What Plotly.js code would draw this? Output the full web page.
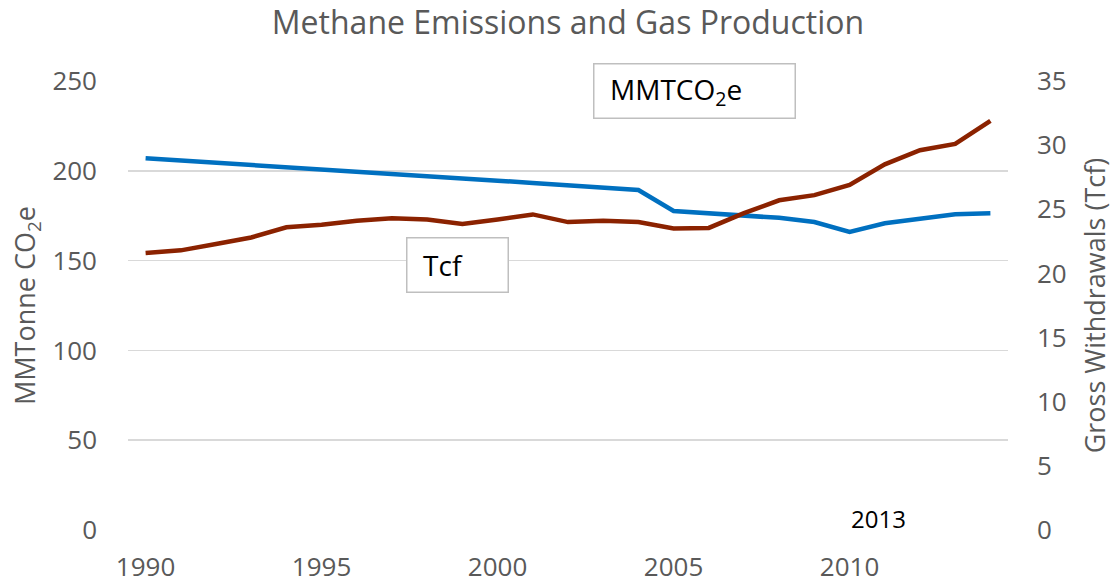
<!DOCTYPE html>
<html>
<head>
<meta charset="utf-8">
<script src="https://cdn.plot.ly/plotly-3.0.1.min.js"></script>
<style>
  html, body { margin: 0; padding: 0; background: #fff; }
  #chart { width: 1115px; height: 587px; }
</style>
</head>
<body>
<div id="chart"></div>
<script>
  // years of the series
  var years = [1990, 1991, 1992, 1993, 1994, 1995, 1996, 1997, 1998, 1999,
               2000, 2001, 2002, 2003, 2004, 2005, 2006, 2007, 2008, 2009,
               2010, 2011, 2012, 2013, 2014];

  // methane emissions, MMT CO2e (left axis)
  var methane = [207, 205.8, 204.5, 203.3, 202, 200.7, 199.5, 198.2, 197, 195.7,
                 194.5, 193.2, 192, 190.7, 189.3, 177.6, 176.5, 175.3, 173.8, 171.5,
                 166, 170.8, 173.6, 175.8, 176.3];

  // gross withdrawals, Tcf (right axis)
  var gas = [21.6, 21.8, 22.3, 22.8, 23.6, 23.8, 24.1, 24.3, 24.2, 23.85,
             24.2, 24.6, 24.0, 24.1, 24.0, 23.5, 23.55, 24.7, 25.7, 26.1,
             26.9, 28.5, 29.6, 30.1, 31.9];

  // tick labels of the year axis
  var yearTicks = [1990, 1995, 2000, 2005, 2010];

  var grey = '#595959';
  var font = 'Open Sans, sans-serif';

  var emissions = {
    x: years,
    y: methane,
    yaxis: 'y',
    mode: 'lines',
    name: 'MMTCO2e',
    line: { color: '#0070C0', width: 4.5 }
  };

  var production = {
    x: years,
    y: gas,
    yaxis: 'y2',
    mode: 'lines',
    name: 'Tcf',
    line: { color: '#8B2200', width: 4.5 }
  };

  var data = [emissions, production];

  var layout = {
    width: 1115,
    height: 587,
    margin: { l: 128, r: 107, t: 81, b: 57 },
    paper_bgcolor: '#fff',
    plot_bgcolor: '#fff',
    showlegend: false,
    font: { family: font, color: grey },
    title: {
      text: 'Methane Emissions and Gas Production',
      font: { size: 32, color: grey, family: font },
      x: 0.5, xref: 'paper',
      y: 0.962, yref: 'container', yanchor: 'middle'
    },
    xaxis: {
      range: [1989.5, 2014.5],
      tickvals: yearTicks,
      ticktext: yearTicks.map(String),
      showgrid: false,
      zeroline: false,
      showline: false,
      ticks: '',
      ticklabelstandoff: 19,
      tickfont: { size: 26, color: grey, family: font },
      automargin: false,
      fixedrange: true
    },
    yaxis: {
      range: [0, 250],
      dtick: 50,
      showgrid: true,
      gridcolor: '#d9d9d9',
      gridwidth: 1.5,
      zeroline: false,
      showline: false,
      ticks: '',
      ticklabelstandoff: 30,
      tickfont: { size: 26, color: grey, family: font },
      automargin: false,
      title: {
        text: 'MMTonne CO<sub>2</sub>e',
        font: { size: 27, color: grey, family: font },
        standoff: 8
      }
    },
    yaxis2: {
      overlaying: 'y',
      side: 'right',
      range: [0, 35],
      dtick: 5,
      showgrid: false,
      zeroline: false,
      showline: false,
      ticks: '',
      ticklabelstandoff: 28,
      tickfont: { size: 26, color: grey, family: font },
      automargin: false,
      title: {
        text: 'Gross Withdrawals (Tcf)',
        font: { size: 27, color: grey, family: font },
        standoff: 20
      }
    },
    annotations: [
      {
        text: '&nbsp;&nbsp;MMTCO<sub>2</sub>e',
        xref: 'paper', yref: 'paper',
        x: 0.6438, y: 0.9788, xanchor: 'center', yanchor: 'middle',
        showarrow: false,
        font: { size: 28, color: '#000', family: font },
        bgcolor: '#fff',
        bordercolor: '#bfbfbf',
        borderwidth: 1.5,
        align: 'left',
        width: 198,
        height: 51
      },
      {
        text: '&nbsp;&nbsp;Tcf',
        xref: 'paper', yref: 'paper',
        x: 0.3739, y: 0.5913, xanchor: 'center', yanchor: 'middle',
        showarrow: false,
        font: { size: 28, color: '#000', family: font },
        bgcolor: '#fff',
        bordercolor: '#bfbfbf',
        borderwidth: 1.5,
        align: 'left',
        width: 98,
        height: 51
      },
      {
        text: '2013',
        xref: 'paper', yref: 'paper',
        x: 0.8523, y: 0.0245, xanchor: 'center', yanchor: 'middle',
        showarrow: false,
        font: { size: 24, color: '#000', family: font }
      }
    ]
  };

  Plotly.newPlot('chart', data, layout, { displayModeBar: false, staticPlot: true });
</script>
</body>
</html>
